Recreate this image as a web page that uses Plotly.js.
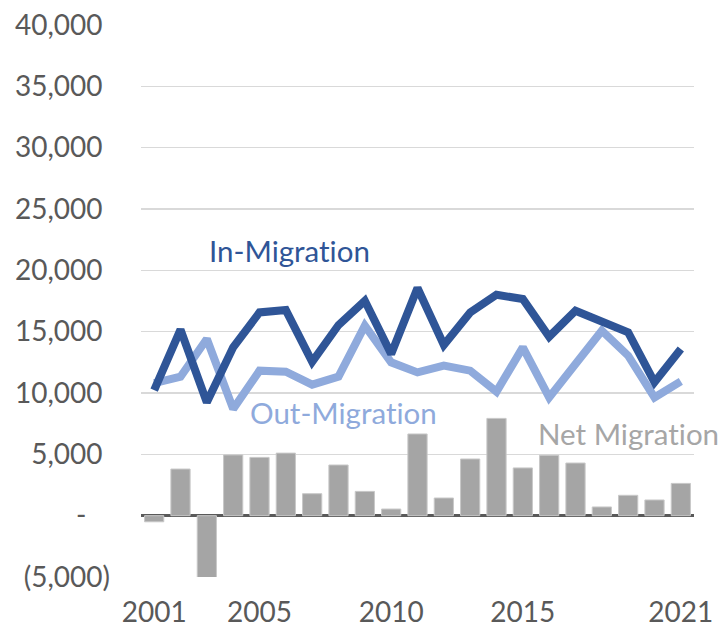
<!DOCTYPE html>
<html><head><meta charset="utf-8">
<script src="https://cdn.plot.ly/plotly-3.0.1.min.js"></script>
<style>html,body{margin:0;padding:0;background:#fff}#chart{width:718px;height:631px}</style>
</head><body><div id="chart"></div>
<script>
var years = ["2001","2002","2003","2004","2005","2006","2007","2008","2009","2010","2011","2012","2013","2014","2015","2016","2017","2018","2019","2020","2021"];
var inMigration = [10240,15160,9240,13720,16570,16760,12550,15540,17520,13180,18560,13910,16570,18010,17660,14590,16710,15840,14940,10870,13580];
var outMigration = [10800,11330,14400,8700,11820,11740,10680,11330,15490,12500,11680,12230,11820,10110,13720,9640,12360,15080,13040,9640,10950];
var netMigration = [-500,3800,-5100,4950,4750,5100,1790,4130,1980,540,6660,1440,4620,7930,3890,4920,4290,710,1660,1280,2630];
var yTickVals = [-5000,0,5000,10000,15000,20000,25000,30000,35000,40000];
var yTickLabels = ["(5,000)","-","5,000","10,000","15,000","20,000","25,000","30,000","35,000","40,000"];
var xTickVals = ["2001","2005","2010","2015","2021"];
var seriesLabels = ["In-Migration","Out-Migration","Net Migration"];

function hid(s) {
  return "<span style='color:rgba(0,0,0,0)'>" + s + "<" + "/span>";
}
function noLig(s) { return s.replace("ti", "t\u200Ci"); }
var yTickText = [];
for (var i = 0; i < yTickLabels.length; i++) {
  var lab = yTickLabels[i];
  if (lab.charAt(0) === "(") { yTickText.push(lab); }
  else if (lab === "-") { yTickText.push(lab + hid("0)")); }
  else { yTickText.push(lab + hid(")")); }
}

var font = "Lato, Open Sans, sans-serif";
var data = [
  {type: "bar", x: years, y: netMigration, marker: {color: "#a5a5a5", line: {color: "#c8c8c8", width: 1}}, name: seriesLabels[2]},
  {type: "scatter", mode: "lines", x: years, y: outMigration, line: {color: "#8faadc", width: 8}, name: seriesLabels[1]},
  {type: "scatter", mode: "lines", x: years, y: inMigration, line: {color: "#2f5597", width: 8}, name: seriesLabels[0]}
];
var layout = {
  width: 718, height: 631,
  margin: {l: 141, r: 24, t: 25, b: 54},
  paper_bgcolor: "#fff", plot_bgcolor: "#fff",
  showlegend: false,
  bargap: 0.27,
  font: {family: font, color: "#595959", size: 28},
  xaxis: {type: "category", tickvals: xTickVals, ticktext: xTickVals, showgrid: false, zeroline: false, showline: false, ticks: "", ticklabelstandoff: 16, tickfont: {size: 28, color: "#595959"}},
  yaxis: {range: [-5000, 40000], tickvals: yTickVals, ticktext: yTickText, showgrid: true, gridcolor: "#d9d9d9", gridwidth: 1.5, zeroline: true, zerolinecolor: "#595959", zerolinewidth: 3.5, showline: false, ticks: "", ticklabelstandoff: 30, tickfont: {size: 28, color: "#595959"}},
  annotations: [
    {xref: "paper", yref: "paper", x: (207 - 141) / 553, y: (577 - 250) / 552, xanchor: "left", yanchor: "middle", text: noLig(seriesLabels[0]), showarrow: false, font: {family: font, size: 29.5, color: "#2f5597"}},
    {xref: "paper", yref: "paper", x: (248 - 141) / 553, y: (577 - 412) / 552, xanchor: "left", yanchor: "middle", text: noLig(seriesLabels[1]), showarrow: false, font: {family: font, size: 29.5, color: "#8faadc"}},
    {xref: "paper", yref: "paper", x: (536 - 141) / 553, y: (577 - 433) / 552, xanchor: "left", yanchor: "middle", text: noLig(seriesLabels[2]), showarrow: false, font: {family: font, size: 29.5, color: "#a6a6a6"}}
  ]
};
Plotly.newPlot("chart", data, layout, {displayModeBar: false, staticPlot: true});
</script></body></html>
